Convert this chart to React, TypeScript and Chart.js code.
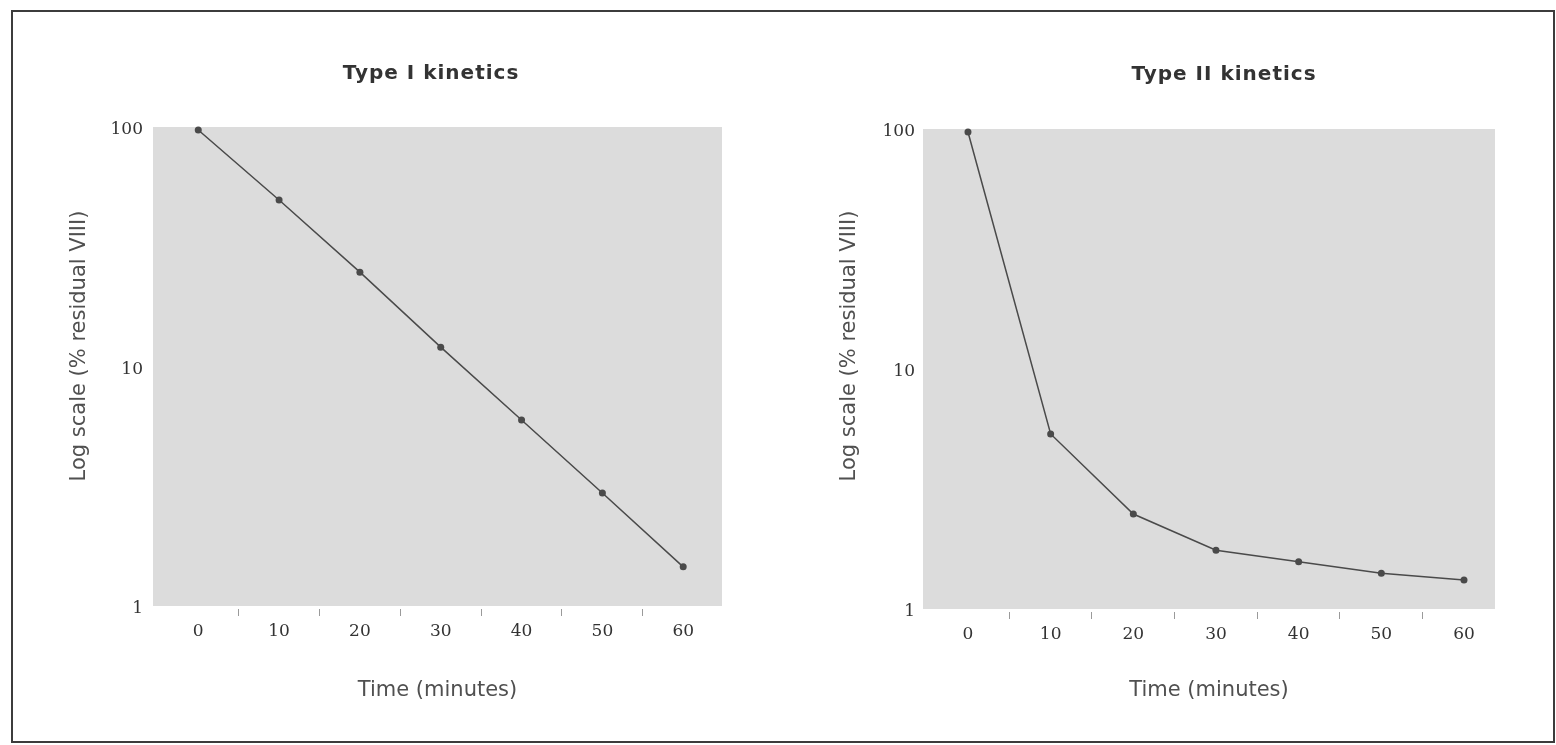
import React, { useEffect, useRef } from "react";
import { Chart, registerables } from "chart.js";

Chart.register(...registerables);

// ---- data ----
const timeMinutes = [0, 10, 20, 30, 40, 50, 60];
const typeIResidual = [100, 51, 25.5, 12.4, 6.15, 3.05, 1.5];
const typeIIResidual = [100, 5.52, 2.56, 1.81, 1.62, 1.45, 1.36];
const yTickValues = [1, 10, 100];
const xLabelTicks = [0, 10, 20, 30, 40, 50, 60];
const xBoundaryTicks = [5, 15, 25, 35, 45, 55];
const chartTitles = ["Type I kinetics", "Type II kinetics"];
const xAxisTitle = "Time (minutes)";
const yAxisTitle = "Log scale (% residual VIII)";

const CANVAS_W = 778;
const CANVAS_H = 745;

type Area = { left: number; right: number; top: number; bottom: number };
type PanelCfg = {
  title: string;
  values: number[];
  xMin: number;
  xMax: number;
  area: Area;
  titleX: number;
  titleY: number;
  yTitleX: number;
  yTitleY: number;
  yTickPad: number;
};

const panelDecor = {
  id: "panelDecor",
  beforeDraw(chart: any, _args: any, opts: any) {
    const { ctx, chartArea: a } = chart;
    ctx.save();
    ctx.fillStyle = opts.plotBg;
    ctx.fillRect(a.left, a.top - 3, a.right - a.left, a.bottom - a.top);
    ctx.restore();
  },
  afterDraw(chart: any, _args: any, opts: any) {
    const ctx = chart.ctx;
    ctx.save();
    ctx.fillStyle = opts.titleColor;
    ctx.font = opts.titleFont;
    (ctx as any).letterSpacing = opts.titleSpacing;
    ctx.textAlign = "center";
    ctx.textBaseline = "middle";
    ctx.fillText(opts.title, opts.titleX, opts.titleY);
    ctx.restore();

    ctx.save();
    ctx.translate(opts.yTitleX, opts.yTitleY);
    ctx.rotate(-Math.PI / 2);
    ctx.fillStyle = opts.yTitleColor;
    ctx.font = opts.yTitleFont;
    ctx.textAlign = "center";
    ctx.textBaseline = "middle";
    ctx.fillText(opts.yTitle, 0, 0);
    ctx.restore();
  },
};

function Panel({ cfg, left }: { cfg: PanelCfg; left: number }) {
  const ref = useRef<HTMLCanvasElement | null>(null);
  useEffect(() => {
    if (!ref.current) return;
    const a = cfg.area;
    const chart = new Chart(ref.current, {
      type: "line",
      data: {
        datasets: [
          {
            data: timeMinutes.map((t, i) => ({ x: t, y: cfg.values[i] })),
            borderColor: "#4a4a4a",
            borderWidth: 1.5,
            pointRadius: 3.5,
            pointBackgroundColor: "#4a4a4a",
            pointBorderWidth: 0,
            tension: 0,
            clip: false as any,
          },
        ],
      },
      options: {
        responsive: false,
        animation: false,
        devicePixelRatio: 1,
        layout: {
          padding: { left: 0, top: a.top, right: CANVAS_W - a.right, bottom: 0 },
        },
        plugins: {
          legend: { display: false },
          tooltip: { enabled: false },
          title: { display: false },
          panelDecor: {
            plotBg: "#dcdcdc",
            title: cfg.title,
            titleX: cfg.titleX,
            titleY: cfg.titleY,
            titleFont: "bold 20px 'DejaVu Sans'",
            titleColor: "#333333",
            titleSpacing: "1px",
            yTitle: yAxisTitle,
            yTitleX: cfg.yTitleX,
            yTitleY: cfg.yTitleY,
            yTitleFont: "21px 'DejaVu Sans'",
            yTitleColor: "#505050",
          },
        } as any,
        scales: {
          x: {
            type: "linear",
            min: cfg.xMin,
            max: cfg.xMax,
            afterBuildTicks: (s: any) => {
              s.ticks = [...xLabelTicks, ...xBoundaryTicks]
                .sort((p, q) => p - q)
                .map((v) => ({ value: v }));
            },
            afterFit: (s: any) => {
              s.height = CANVAS_H - a.bottom;
            },
            ticks: {
              autoSkip: false,
              maxRotation: 0,
              padding: 5,
              color: "#333333",
              font: { family: "DejaVu Serif", size: 17 },
              callback: (v: any) => (xLabelTicks.includes(Number(v)) ? String(v) : ""),
            },
            grid: {
              drawOnChartArea: false,
              drawTicks: true,
              tickLength: 7,
              lineWidth: 1,
              color: (c: any) =>
                c.tick && xBoundaryTicks.includes(c.tick.value) ? "#9a9a9a" : "rgba(0,0,0,0)",
            },
            border: { display: false },
            title: {
              display: true,
              text: xAxisTitle,
              color: "#505050",
              font: { family: "DejaVu Sans", size: 21 },
              padding: { top: 0, bottom: 42 },
            },
          },
          y: {
            type: "logarithmic",
            min: 1,
            max: 100,
            afterBuildTicks: (s: any) => {
              s.ticks = yTickValues.map((v) => ({ value: v }));
            },
            afterFit: (s: any) => {
              s.width = a.left;
            },
            ticks: {
              autoSkip: false,
              padding: cfg.yTickPad,
              color: "#333333",
              font: { family: "DejaVu Serif", size: 17 },
              callback: (v: any) => String(v),
            },
            grid: { display: false, drawTicks: false },
            border: { display: false },
          },
        } as any,
      },
      plugins: [panelDecor as any],
    });
    return () => chart.destroy();
  }, [cfg]);
  return (
    <canvas
      ref={ref}
      width={CANVAS_W}
      height={CANVAS_H}
      style={{ position: "absolute", left, top: 0, width: CANVAS_W, height: CANVAS_H, display: "block" }}
    />
  );
}

const leftCfg: PanelCfg = {
  title: chartTitles[0],
  values: typeIResidual,
  xMin: -5.6,
  xMax: 64.8,
  area: { left: 153, right: 722, top: 130, bottom: 609 },
  titleX: 431,
  titleY: 74,
  yTitleX: 80,
  yTitleY: 346,
  yTickPad: 10,
};

const rightCfg: PanelCfg = {
  title: chartTitles[1],
  values: typeIIResidual,
  xMin: -5.44,
  xMax: 63.75,
  area: { left: 145, right: 717, top: 132, bottom: 612 },
  titleX: 446,
  titleY: 75,
  yTitleX: 72,
  yTitleY: 346,
  yTickPad: 8,
};

export default function App() {
  return (
    <div
      style={{
        position: "absolute",
        left: 0,
        top: 0,
        width: 1556,
        height: 745,
        background: "#ffffff",
        overflow: "hidden",
      }}
    >
      <Panel cfg={leftCfg} left={0} />
      <Panel cfg={rightCfg} left={778} />
      <div
        style={{
          position: "absolute",
          left: 11,
          top: 10,
          width: 1544,
          height: 733,
          border: "2px solid #3c3c3c",
          boxSizing: "border-box",
          pointerEvents: "none",
        }}
      />
    </div>
  );
}
